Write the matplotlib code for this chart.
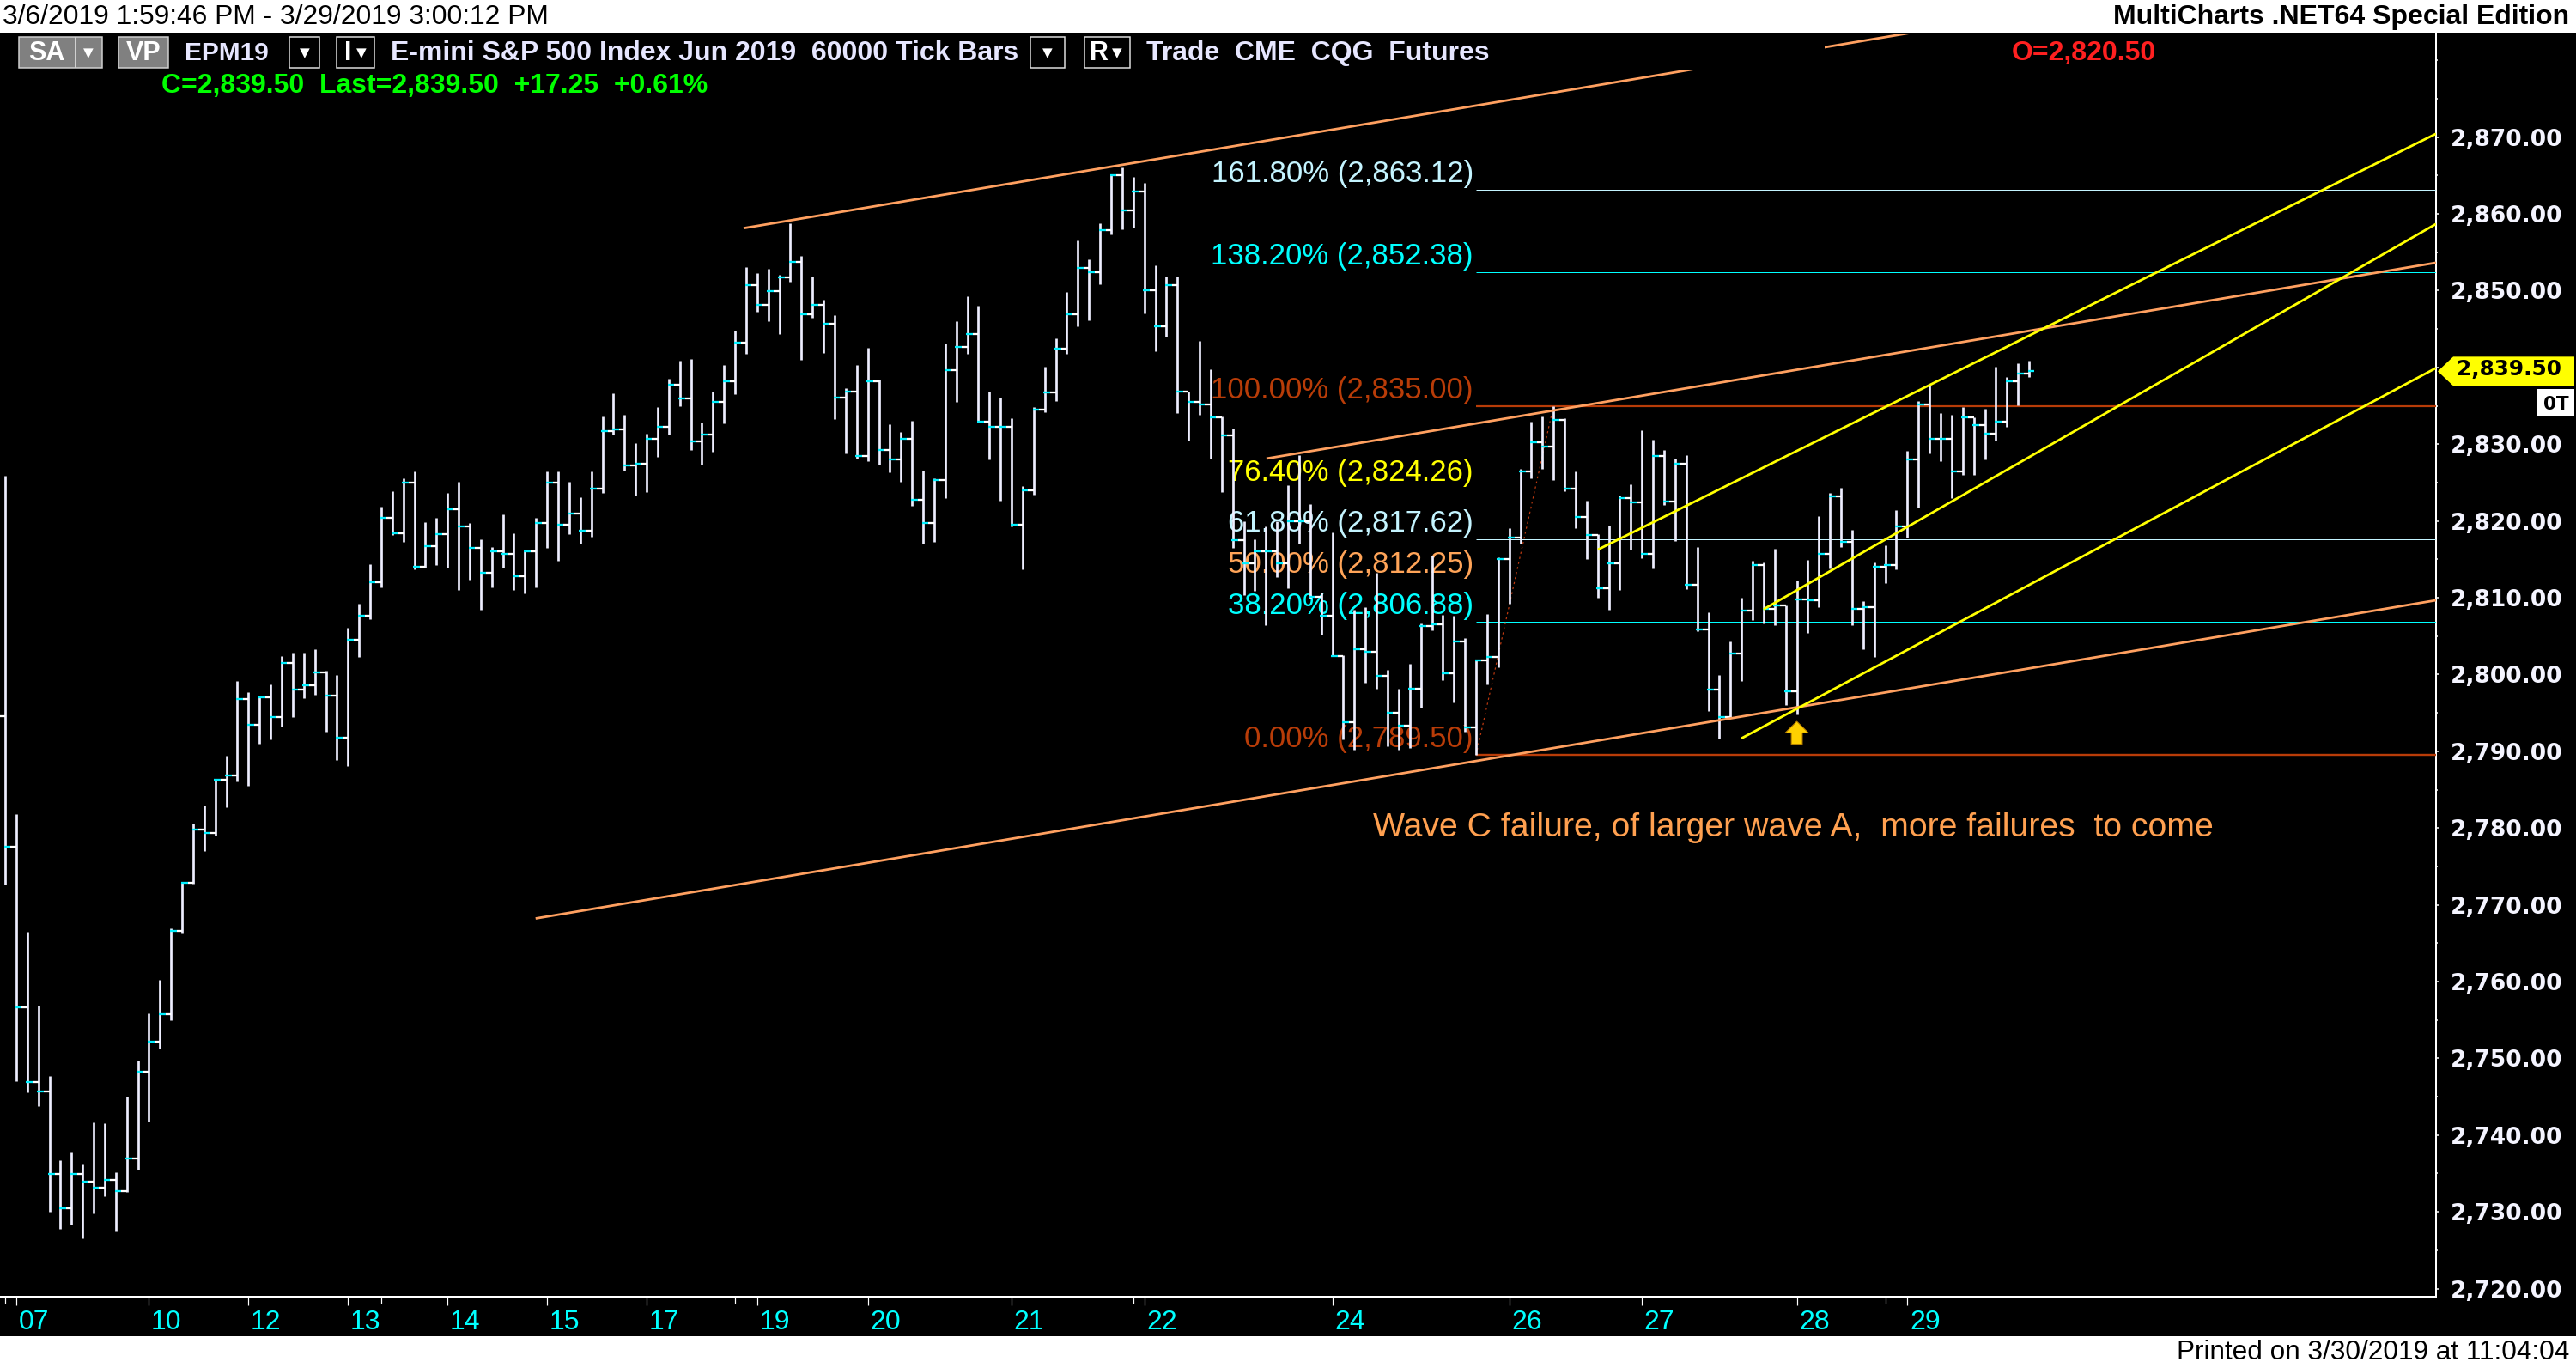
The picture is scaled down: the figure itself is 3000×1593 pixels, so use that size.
import numpy as np
import matplotlib
matplotlib.use("Agg")
import matplotlib.pyplot as plt
from matplotlib.patches import Rectangle, Polygon
from matplotlib.ticker import FixedLocator, MultipleLocator

# ---------------- data ----------------
open0 = 2794.6
highs = [2825.9, 2781.8, 2766.5, 2756.9, 2747.7, 2736.7, 2737.7, 2736.2, 2741.7, 2741.5,
         2735.2, 2745.0, 2749.7, 2755.9, 2760.2, 2766.9, 2772.9, 2780.6, 2782.9, 2786.3,
         2789.4, 2799.1, 2797.7, 2797.2, 2798.7, 2802.4, 2802.8, 2802.8, 2803.3, 2800.5,
         2799.9, 2806.1, 2809.2, 2814.4, 2821.9, 2823.9, 2825.5, 2826.5, 2819.9, 2820.4,
         2823.7, 2825.1, 2819.7, 2817.6, 2816.6, 2820.9, 2818.4, 2816.3, 2820.4, 2826.5,
         2826.5, 2825.1, 2823.1, 2826.5, 2833.6, 2836.6, 2833.8, 2830.1, 2831.4, 2834.8,
         2838.5, 2840.9, 2841.1, 2832.8, 2836.85, 2840.3, 2844.8, 2853.1, 2852.3, 2852.85,
         2852.1, 2858.8, 2854.5, 2851.8, 2848.8, 2846.8, 2837.3, 2840.3, 2842.6, 2838.4,
         2832.6, 2831.6, 2833.05, 2826.6, 2825.6, 2843.1, 2846.0, 2849.3, 2848.0, 2836.9,
         2836.1, 2833.35, 2824.6, 2834.8, 2840.06, 2843.75, 2849.8, 2856.5, 2854.05, 2858.8,
         2865.1, 2866.05, 2864.8, 2864.0, 2853.3, 2851.8, 2851.8, 2836.85, 2843.5, 2839.8,
         2833.6, 2832.0, 2820.0, 2817.6, 2819.25, 2820.0, 2824.7, 2828.6, 2822.2, 2810.7,
         2818.5, 2802.5, 2808.4, 2808.8, 2813.3, 2800.6, 2798.2, 2801.4, 2806.6, 2815.5,
         2807.8, 2807.6, 2804.8, 2801.9, 2807.9, 2815.3, 2819.07, 2826.8, 2832.9, 2833.6,
         2835.0, 2833.4, 2826.5, 2822.6, 2818.3, 2819.4, 2823.35, 2824.8, 2831.8, 2830.6,
         2829.3, 2828.1, 2828.6, 2816.57, 2808.06, 2799.9, 2804.3, 2810.0, 2814.85, 2814.6,
         2816.35, 2809.0, 2812.2, 2814.9, 2820.6, 2823.65, 2824.3, 2818.8, 2809.6, 2814.6,
         2816.8, 2821.4, 2829.1, 2835.66, 2837.7, 2834.1, 2833.8, 2834.85, 2833.4, 2834.6,
         2840.06, 2838.8, 2840.5, 2840.9]
lows = [2772.6, 2747.0, 2745.6, 2743.8, 2730.0, 2727.8, 2728.3, 2726.5, 2729.8, 2732.0,
        2727.5, 2732.6, 2735.5, 2741.8, 2751.3, 2755.0, 2766.3, 2772.7, 2777.0, 2779.0,
        2782.7, 2786.1, 2785.5, 2791.0, 2791.6, 2793.2, 2794.4, 2796.9, 2797.4, 2792.5,
        2788.9, 2788.1, 2802.3, 2807.2, 2811.4, 2818.2, 2817.3, 2813.7, 2813.9, 2814.3,
        2813.9, 2811.05, 2812.3, 2808.4, 2811.4, 2813.9, 2811.05, 2810.6, 2811.4, 2816.5,
        2814.8, 2818.3, 2817.1, 2817.9, 2823.6, 2831.3, 2826.6, 2823.3, 2823.8, 2828.3,
        2831.3, 2835.0, 2829.3, 2827.3, 2829.05, 2832.75, 2836.55, 2841.8, 2847.3, 2846.06,
        2844.3, 2851.2, 2841.0, 2846.5, 2841.85, 2833.3, 2828.8, 2828.1, 2827.8, 2827.3,
        2826.3, 2825.1, 2822.0, 2817.1, 2817.3, 2823.0, 2835.5, 2841.8, 2832.9, 2828.0,
        2822.6, 2819.25, 2813.65, 2823.4, 2834.2, 2835.6, 2841.8, 2845.35, 2846.1, 2850.8,
        2857.3, 2858.0, 2858.2, 2847.07, 2842.1, 2844.05, 2834.1, 2830.5, 2833.8, 2828.1,
        2823.8, 2816.45, 2810.3, 2810.9, 2806.4, 2812.7, 2811.2, 2817.1, 2809.9, 2805.2,
        2802.4, 2791.5, 2790.2, 2798.9, 2798.1, 2790.7, 2790.2, 2790.4, 2795.7, 2805.8,
        2799.3, 2796.4, 2792.5, 2789.5, 2798.67, 2800.9, 2809.2, 2817.1, 2825.6, 2826.8,
        2825.3, 2823.9, 2819.1, 2815.07, 2810.0, 2808.4, 2811.05, 2816.3, 2815.15, 2813.85,
        2822.05, 2817.4, 2811.1, 2805.6, 2795.2, 2791.66, 2794.6, 2799.1, 2807.1, 2806.6,
        2806.4, 2796.0, 2794.8, 2805.4, 2808.8, 2813.85, 2816.57, 2806.4, 2803.3, 2802.3,
        2811.87, 2813.66, 2817.8, 2821.8, 2828.8, 2827.8, 2823.0, 2826.0, 2826.0, 2828.0,
        2830.5, 2832.3, 2835.1, 2838.8]
closes = [2777.6, 2756.6, 2746.9, 2745.7, 2734.9, 2730.5, 2734.9, 2733.9, 2733.1, 2734.2,
          2732.7, 2737.0, 2748.2, 2752.2, 2755.8, 2766.6, 2772.9, 2779.8, 2779.3, 2786.3,
          2786.8, 2796.8, 2793.4, 2797.0, 2794.5, 2801.5, 2798.0, 2798.6, 2800.3, 2797.2,
          2791.8, 2804.5, 2807.7, 2812.0, 2820.4, 2818.4, 2825.0, 2814.0, 2816.7, 2818.3,
          2821.5, 2819.3, 2816.5, 2813.2, 2816.0, 2815.7, 2812.8, 2816.0, 2819.7, 2825.0,
          2819.5, 2821.0, 2818.7, 2824.2, 2831.7, 2831.9, 2827.2, 2827.4, 2830.7, 2832.3,
          2837.7, 2836.0, 2830.4, 2831.3, 2835.5, 2838.2, 2843.2, 2850.7, 2848.1, 2849.9,
          2851.7, 2853.7, 2846.9, 2848.1, 2845.7, 2836.1, 2836.8, 2828.5, 2838.2, 2829.3,
          2828.0, 2830.7, 2822.8, 2819.7, 2825.3, 2839.7, 2842.7, 2844.3, 2832.9, 2832.3,
          2832.3, 2819.5, 2824.0, 2834.5, 2836.7, 2842.4, 2846.9, 2852.96, 2852.4, 2857.9,
          2865.0, 2860.5, 2862.95, 2850.1, 2845.3, 2850.7, 2836.8, 2835.5, 2835.2, 2833.5,
          2831.1, 2817.5, 2814.5, 2816.1, 2816.0, 2814.5, 2820.0, 2820.0, 2810.1, 2807.6,
          2802.4, 2793.8, 2803.3, 2803.0, 2799.8, 2795.0, 2793.3, 2798.1, 2806.3, 2806.5,
          2800.2, 2804.3, 2793.1, 2801.8, 2802.3, 2815.07, 2817.8, 2826.5, 2830.3, 2829.7,
          2833.2, 2824.2, 2820.5, 2818.2, 2811.2, 2814.5, 2823.0, 2822.4, 2815.7, 2828.5,
          2822.5, 2827.5, 2811.7, 2805.9, 2798.0, 2794.5, 2802.7, 2808.3, 2814.3, 2808.5,
          2809.0, 2797.8, 2809.8, 2809.7, 2815.7, 2823.2, 2817.3, 2808.5, 2808.8, 2814.0,
          2814.2, 2819.25, 2828.0, 2835.2, 2830.7, 2830.7, 2826.4, 2833.5, 2832.45, 2831.4,
          2832.9, 2838.2, 2839.2, 2839.5]

# date axis: bar index of each session label
date_labels = ["07", "10", "12", "13", "14", "15", "17", "19", "20", "21", "22", "24", "26", "27", "28", "29"]
date_bars = [1, 13, 22, 31, 40, 49, 58, 68, 78, 91, 103, 120, 136, 148, 162, 172]
minor_bars = [0, 34, 66, 102, 170]

# price axis
price_ticks = list(range(2720, 2871, 10))

# channel trend lines (orange): start bar, start price, end bar, end price
chan_x0 = [66.77, 114.05, 47.96]
chan_p0 = [2858.14, 2828.13, 2768.22]
chan_x1 = [175.0, 219.8, 219.8]
chan_p1 = [2884.24, 2853.64, 2809.67]

# yellow fan lines
yel_x0 = [144.02, 158.98, 156.99]
yel_p0 = [2816.27, 2808.48, 2791.68]
yel_x1 = [219.8, 219.8, 219.8]
yel_p1 = [2870.44, 2858.69, 2839.93]

# Fibonacci retracement
fib_ratios = [161.8, 138.2, 100.0, 76.4, 61.8, 50.0, 38.2, 0.0]
fib_prices = [2863.12, 2852.38, 2835.00, 2824.26, 2817.62, 2812.25, 2806.88, 2789.50]
fib_colors = ['#C4F4FF', '#00FFFF', '#B83C08', '#FFFF00', '#C4F4FF', '#FFA458', '#00FFFF', '#B83C08']
fib_widths = [1.0, 1.0, 2.2, 1.0, 1.0, 1.0, 1.0, 2.4]
fib_start_bar = 133
fib_trend_bars = [133, 140]
fib_trend_prices = [2789.5, 2835.0]

arrow_bar = 162
arrow_price = 2790.9

note_text = "Wave C failure, of larger wave A,  more failures  to come"
note_bar = 123.7
note_price = 2780.0

# ---------------- figure ----------------
W, H = 3000, 1593
fig = plt.figure(figsize=(W / 100, H / 100), dpi=100, facecolor='black')

def fx(x):
    return x / W

def fy(y):
    return 1 - y / H

PT = 0.72  # points per pixel
ax_top, ax_bot, ax_right = 40.0, 1510.3, 2837.0
ax = fig.add_axes([0, fy(ax_bot), fx(ax_right), (ax_bot - ax_top) / H])
ax.set_facecolor('black')
ylo, yhi = 2718.91, 2883.39
xlo, xhi = -0.466, 219.8
ax.set_ylim(ylo, yhi)
ax.set_xlim(xlo, xhi)

for s in ['left', 'top']:
    ax.spines[s].set_visible(False)
ax.spines['right'].set_color('white')
ax.spines['bottom'].set_color('white')
ax.spines['right'].set_linewidth(2 * PT)
ax.spines['bottom'].set_linewidth(2 * PT)

# y axis on right
ax.yaxis.tick_right()
ax.yaxis.set_major_locator(FixedLocator(price_ticks))
ax.yaxis.set_minor_locator(MultipleLocator(5))
ax.set_yticklabels([f"{p:,.2f}" for p in price_ticks])
ax.tick_params(axis='y', which='major', colors='white', length=4 * PT, width=1.5 * PT, pad=13 * PT,
               labelsize=19)
ax.tick_params(axis='y', which='minor', colors='white', length=2 * PT, width=1.5 * PT)
for lab in ax.get_yticklabels():
    lab.set_fontfamily('DejaVu Sans')
    lab.set_fontweight('bold')
    lab.set_color('#F4F4FF')

# x axis
ax.xaxis.set_major_locator(FixedLocator(date_bars))
ax.xaxis.set_minor_locator(FixedLocator(minor_bars))
ax.set_xticklabels([])
ax.tick_params(axis='x', which='major', colors='white', length=10 * PT, width=1.2 * PT)
ax.tick_params(axis='x', which='minor', colors='white', length=8 * PT, width=1.2 * PT)
xt = ax.get_xaxis_transform()
for b, lab in zip(date_bars, date_labels):
    ax.text(b + 0.2, (ax_bot - 1548) / (ax_bot - ax_top), lab, transform=xt, ha='left', va='baseline',
            color='#00FFFF', fontsize=23, family=['Liberation Sans', 'DejaVu Sans'], clip_on=False)

# ---------------- bars ----------------
n = len(closes)
xs = np.arange(n)
cl = np.array(closes)
op = np.concatenate([[open0], cl[:-1]])
hi = np.maximum(np.array(highs), np.maximum(op, cl))
lo = np.minimum(np.array(lows), np.minimum(op, cl))
ax.vlines(xs, lo, hi, colors='#EEEEFF', linewidth=2.7 * PT, zorder=5)
ax.hlines(op, xs - 0.5, xs, colors='#FFFFFF', linewidth=2.3 * PT, zorder=5)
ax.hlines(cl, xs - 0.1, xs + 0.5, colors='#00F0FF', linewidth=2.3 * PT, zorder=6)

# ---------------- fib ----------------
for r, p, c, w in zip(fib_ratios, fib_prices, fib_colors, fib_widths):
    ax.hlines(p, fib_start_bar, xhi, colors=c, linewidth=w * PT, zorder=3)
    ax.text(fib_start_bar - 0.25, p + 1.0, f"{r:.2f}% ({p:,.2f})", ha='right', va='baseline',
            color=c, fontsize=25, family=['Liberation Sans', 'DejaVu Sans'], zorder=4)
ax.plot(fib_trend_bars, fib_trend_prices, color='#C03A10', linewidth=1.2 * PT, linestyle=(0, (2, 3)),
        zorder=4)

# ---------------- trend lines ----------------
for a0, b0, a1, b1 in zip(chan_x0, chan_p0, chan_x1, chan_p1):
    ax.plot([a0, a1], [b0, b1], color='#FFA060', linewidth=2.8 * PT, zorder=7, solid_capstyle='butt')
for a0, b0, a1, b1 in zip(yel_x0, yel_p0, yel_x1, yel_p1):
    ax.plot([a0, a1], [b0, b1], color='#FFFF00', linewidth=2.8 * PT, zorder=7, solid_capstyle='butt')

# arrow marker
hw, sw = 1.05, 0.5
arrow = Polygon([(arrow_bar, arrow_price + 3.0), (arrow_bar + hw, arrow_price + 1.5),
                 (arrow_bar + sw, arrow_price + 1.5), (arrow_bar + sw, arrow_price),
                 (arrow_bar - sw, arrow_price), (arrow_bar - sw, arrow_price + 1.5),
                 (arrow_bar - hw, arrow_price + 1.5)], closed=True,
                facecolor='#FFD000', edgecolor='#B07800', linewidth=1.0 * PT, zorder=8)
ax.add_patch(arrow)

ax.text(note_bar, note_price, note_text, ha='left', va='center', color='#FFA050', fontsize=28.3,
        family=['Liberation Sans', 'DejaVu Sans'], zorder=8)

# ---------------- header / footer ----------------
fig.patches.append(Rectangle((fx(0), fy(82)), fx(2125), (82 - ax_top) / H, transform=fig.transFigure,
                             facecolor='black', edgecolor='none', zorder=1))
fig.patches.append(Rectangle((0, fy(38)), 1, 38 / H, transform=fig.transFigure,
                             facecolor='white', edgecolor='none', zorder=1))
fig.patches.append(Rectangle((0, 0), 1, (H - 1556) / H, transform=fig.transFigure,
                             facecolor='white', edgecolor='none', zorder=1))

FAM = ['Liberation Sans', 'DejaVu Sans']
fig.text(fx(3), fy(20), "3/6/2019 1:59:46 PM - 3/29/2019 3:00:12 PM", ha='left', va='center',
         color='black', fontsize=22.9, family=FAM)
fig.text(fx(2992), fy(20), "MultiCharts .NET64 Special Edition", ha='right', va='center',
         color='black', fontsize=23, fontweight='bold', family=FAM)
fig.text(fx(2992), fy(1575), "Printed on 3/30/2019 at 11:04:04", ha='right', va='center',
         color='black', fontsize=22.7, family=FAM)

def box(x0, x1, face, edge):
    fig.patches.append(Rectangle((fx(x0), fy(79)), fx(x1 - x0), 36 / H, transform=fig.transFigure,
                                 facecolor=face, edgecolor=edge, linewidth=1.5 * PT, zorder=2))

hc = '#E6E6FF'
HS = 23
ry = fy(62)
box(22, 119, '#808080', '#D0D0D0')
fig.patches.append(Rectangle((fx(87), fy(79)), fx(1.5), 36 / H, transform=fig.transFigure,
                             facecolor='#D0D0D0', edgecolor='none', zorder=3))
fig.text(fx(54), ry, "SA", ha='center', va='center', color='white', fontsize=22, fontweight='bold', family=FAM)
fig.text(fx(103), ry, "▼", ha='center', va='center', color='white', fontsize=11, family=['DejaVu Sans'])
box(138, 196, '#808080', '#D0D0D0')
fig.text(fx(167), ry, "VP", ha='center', va='center', color='white', fontsize=22, fontweight='bold', family=FAM)
fig.text(fx(215), ry, "EPM19", ha='left', va='center', color=hc, fontsize=21.5, fontweight='bold', family=FAM)
box(337, 372, 'black', '#E0E0E0')
fig.text(fx(354.5), ry, "▼", ha='center', va='center', color='white', fontsize=11, family=['DejaVu Sans'])
box(392, 436, 'black', '#E0E0E0')
fig.text(fx(405), ry, "I", ha='center', va='center', color='white', fontsize=22, fontweight='bold', family=FAM)
fig.text(fx(421), ry, "▼", ha='center', va='center', color='white', fontsize=11, family=['DejaVu Sans'])
fig.text(fx(455), ry, "E-mini S&P 500 Index Jun 2019  60000 Tick Bars", ha='left', va='center', color=hc,
         fontsize=HS, fontweight='bold', family=FAM)
box(1200, 1240, 'black', '#E0E0E0')
fig.text(fx(1220), ry, "▼", ha='center', va='center', color='white', fontsize=11, family=['DejaVu Sans'])
box(1263, 1316, 'black', '#E0E0E0')
fig.text(fx(1280), ry, "R", ha='center', va='center', color='white', fontsize=22, fontweight='bold', family=FAM)
fig.text(fx(1301), ry, "▼", ha='center', va='center', color='white', fontsize=11, family=['DejaVu Sans'])
fig.text(fx(1335), ry, "Trade  CME  CQG  Futures", ha='left', va='center', color=hc,
         fontsize=HS, fontweight='bold', family=FAM)
fig.text(fx(2343), ry, "O=2,820.50", ha='left', va='center', color='#FF2020',
         fontsize=HS, fontweight='bold', family=FAM)
fig.text(fx(188), fy(100), "C=2,839.50  Last=2,839.50  +17.25  +0.61%", ha='left', va='center',
         color='#00FF00', fontsize=HS, fontweight='bold', family=FAM)

# last price marker on the price axis
last = closes[-1]
ly = ax_top + (yhi - last) / (yhi - ylo) * (ax_bot - ax_top)
tag = Polygon([(fx(2839), fy(ly)), (fx(2857), fy(ly - 17)), (fx(2998), fy(ly - 17)),
               (fx(2998), fy(ly + 17)), (fx(2857), fy(ly + 17))], closed=True,
              transform=fig.transFigure, facecolor='#FFFF00', edgecolor='none', zorder=2)
fig.patches.append(tag)
fig.text(fx(2861), fy(ly - 2), f"{last:,.2f}", ha='left', va='center', color='black', fontsize=17.8,
         fontweight='bold', family=['DejaVu Sans'])
fig.patches.append(Rectangle((fx(2955), fy(ly + 53)), fx(43), 32 / H, transform=fig.transFigure,
                             facecolor='white', edgecolor='none', zorder=2))
fig.text(fx(2976.5), fy(ly + 39), "0T", ha='center', va='center', color='black', fontsize=15.5,
         fontweight='bold', family=['DejaVu Sans'])

fig.savefig("out.png", dpi=100, facecolor='black')
